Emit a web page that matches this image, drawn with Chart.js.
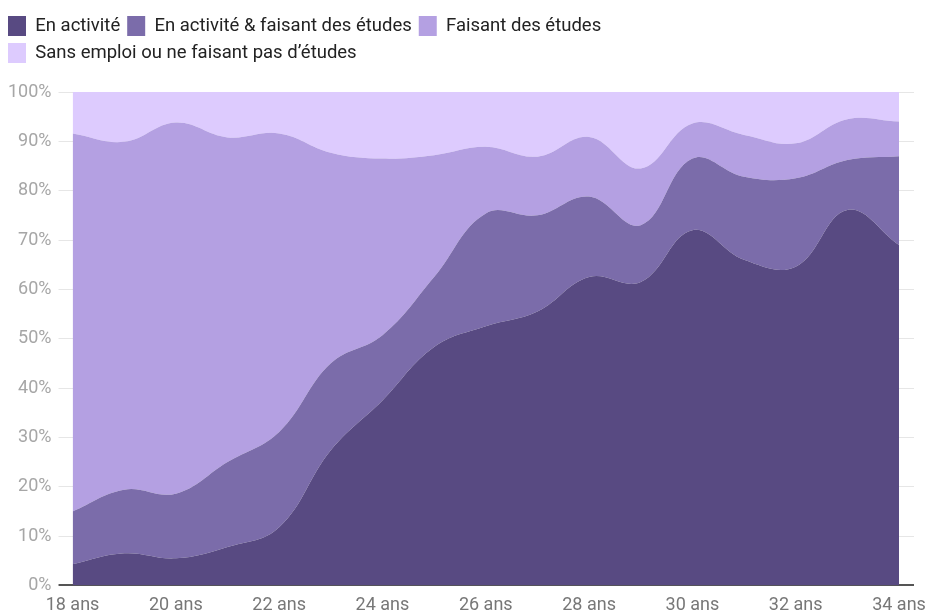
<!DOCTYPE html>
<html lang="fr">
<head>
<meta charset="utf-8">
<title>Activité par âge</title>
<script src="https://cdn.jsdelivr.net/npm/chart.js@4.4.1/dist/chart.umd.min.js"></script>
<style>
    html, body { margin: 0; padding: 0; background: #fff; }
    #chart { display: block; }
</style>
</head>
<body>
<canvas id="chart" width="927" height="612"></canvas>
<script>
const ages = ['18 ans', '19 ans', '20 ans', '21 ans', '22 ans', '23 ans', '24 ans', '25 ans', '26 ans',
    '27 ans', '28 ans', '29 ans', '30 ans', '31 ans', '32 ans', '33 ans', '34 ans'];

// parts en %, empilées de bas en haut
const enActivite = [4.3, 6.5, 5.5, 7.8, 11.8, 27.4, 37.5, 48.3, 52.5, 55.5, 62.5, 61.5, 72.0, 66.0, 64.6, 76.1, 69.0];
const activiteEtudes = [10.7, 12.9, 13.1, 17.2, 19.3, 17.6, 13.2, 14.2, 22.9, 19.5, 16.3, 11.5, 14.5, 16.8, 17.9, 10.1, 18.0];
const faisantEtudes = [76.6, 70.5, 75.2, 65.8, 60.5, 42.7, 35.8, 24.7, 13.5, 11.9, 12.1, 11.5, 7.1, 8.5, 7.1, 8.3, 7.0];
const sansEmploi = [8.4, 10.1, 6.2, 9.2, 8.4, 12.3, 13.5, 12.8, 11.1, 13.1, 9.1, 15.5, 6.4, 8.7, 10.4, 5.5, 6.0];

const yTicks = [0, 10, 20, 30, 40, 50, 60, 70, 80, 90, 100];

const FONT = 'Roboto, "Noto Sans", sans-serif';

function area(label, data, color, fill) {
    return {
        label,
        data,
        backgroundColor: color,
        borderColor: color,
        borderWidth: 0,
        pointRadius: 0,
        fill,
        tension: 0.4
    };
}

// espace entre la légende et le graphique
const legendGap = {
    id: 'legendGap',
    beforeInit(chart) {
        const fit = chart.legend.fit;
        chart.legend.fit = function () {
            fit.bind(chart.legend)();
            this.height += 19;
        };
    }
};

new Chart(document.getElementById('chart'), {
    type: 'line',
    data: {
        labels: ages,
        datasets: [
            area('En activité', enActivite, '#584a82', 'origin'),
            area('En activité & faisant des études', activiteEtudes, '#7b6caa', '-1'),
            area('Faisant des études', faisantEtudes, '#b4a0e2', '-1'),
            area('Sans emploi ou ne faisant pas d\u2019études', sansEmploi, '#ddcbfe', '-1')
        ]
    },
    options: {
        responsive: false,
        animation: false,
        layout: { padding: { left: 1, right: 13, top: 9, bottom: -13 } },
        plugins: {
            legend: {
                position: 'top',
                align: 'start',
                labels: {
                    boxWidth: 18,
                    boxHeight: 20,
                    padding: 7,
                    color: '#222',
                    font: { family: FONT, size: 18.5 }
                }
            },
            tooltip: { enabled: false }
        },
        scales: {
            x: {
                grid: { display: false, drawTicks: false },
                border: { display: false },
                afterFit: s => { s.paddingRight = 0; },
                ticks: {
                    autoSkip: false,
                    maxRotation: 0,
                    padding: 9,
                    color: '#777',
                    font: { family: FONT, size: 18 },
                    callback: (v, i) => i % 2 === 0 ? ages[i] : ''
                }
            },
            y: {
                stacked: true,
                min: 0,
                max: 100,
                afterBuildTicks: s => { s.ticks = yTicks.map(v => ({ value: v })); },
                grid: {
                    tickLength: 14,
                    color: c => c.tick && c.tick.value === 0 ? '#555' : '#e6e6e6',
                    lineWidth: c => c.tick && c.tick.value === 0 ? 2 : 1
                },
                border: { display: false },
                ticks: {
                    padding: 7,
                    color: '#a6a6a6',
                    font: { family: FONT, size: 18 },
                    callback: v => v + '%'
                }
            },
            yRight: {
                position: 'right',
                min: 0,
                max: 100,
                afterBuildTicks: s => { s.ticks = yTicks.map(v => ({ value: v })); },
                afterFit: s => { s.width = 15; },
                grid: {
                    drawOnChartArea: false,
                    tickLength: 15,
                    color: c => c.tick && c.tick.value === 0 ? '#555' : '#e6e6e6',
                    lineWidth: c => c.tick && c.tick.value === 0 ? 2 : 1
                },
                border: { display: false },
                ticks: { display: false }
            }
        }
    },
    plugins: [legendGap]
});
</script>
</body>
</html>
